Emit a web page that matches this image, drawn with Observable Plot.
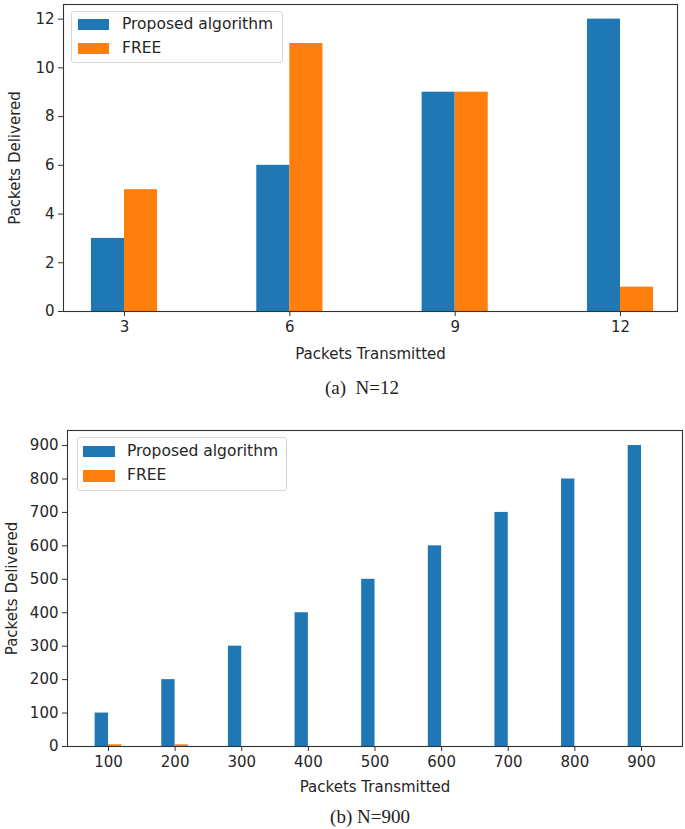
<!DOCTYPE html>
<html>
<head>
<meta charset="utf-8">
<script src="https://cdn.jsdelivr.net/npm/d3@7"></script>
<script src="https://cdn.jsdelivr.net/npm/@observablehq/plot@0.6"></script>
<style>
  html, body { margin: 0; padding: 0; background: #fff; }
  #root { position: relative; width: 685px; height: 829px; overflow: hidden; }
  .legend { position: absolute; border: 1px solid #d6d6d6; border-radius: 3px; background: rgba(255,255,255,0.85); box-sizing: border-box; }
  .sw { position: absolute; }
  .lt { position: absolute; font-family: "DejaVu Sans", sans-serif; font-size: 15.5px; color: #262626; line-height: 1; white-space: nowrap; }
  .cap { position: absolute; font-family: "Liberation Serif", "DejaVu Serif", serif; font-size: 19px; color: #222; white-space: nowrap; transform: translate(-50%, -50%); }
</style>
</head>
<body>
<div id="root"></div>
<script>
// ---- data ----
const seriesNames = ["Proposed algorithm", "FREE"];
const seriesColors = ["#1f77b4", "#ff7f0e"];

// (a) N=12
const transmittedA = [3, 6, 9, 12];
const proposedA = [3, 6, 9, 12];
const freeA = [5, 11, 9, 1];
const yTicksA = [0, 2, 4, 6, 8, 10, 12];

// (b) N=900
const transmittedB = [100, 200, 300, 400, 500, 600, 700, 800, 900];
const proposedB = [100, 200, 300, 400, 500, 600, 700, 800, 900];
const freeB = [5, 5, 0, 0, 0, 0, 0, 0, 0];
const yTicksB = [0, 100, 200, 300, 400, 500, 600, 700, 800, 900];

const captionA = "(a)\u00a0\u00a0N=12";
const captionB = "(b) N=900";
const xLabel = "Packets Transmitted";
const yLabel = "Packets Delivered";

function rows(xs, a, b) {
  const out = [];
  xs.forEach((x, i) => {
    out.push({x, v: a[i], s: 0});
    out.push({x, v: b[i], s: 1});
  });
  return out;
}

function makeChart(opts) {
  const data = rows(opts.xs, opts.a, opts.b);
  const w = opts.barW;
  return Plot.plot({
    width: 685,
    height: opts.height,
    marginTop: opts.mt,
    marginBottom: opts.mb,
    marginLeft: opts.ml,
    marginRight: opts.mr,
    style: {fontFamily: "DejaVu Sans, sans-serif", fontSize: "15px", color: "#262626", background: "transparent"},
    x: {domain: opts.xDomain},
    y: {domain: opts.yDomain},
    marks: [
      Plot.rectY(data, {
        x1: d => d.s === 0 ? d.x - w : d.x,
        x2: d => d.s === 0 ? d.x : d.x + w,
        y1: 0,
        y2: d => d.v,
        fill: d => seriesColors[d.s]
      }),
      Plot.frame({stroke: "#333", strokeWidth: 1.1}),
      Plot.axisX({ticks: opts.xs, tickFormat: d => String(d), tickSize: 5, tickPadding: 5,
        label: xLabel, labelAnchor: "center", labelArrow: "none", labelOffset: opts.xLabelOffset, stroke: "#333"}),
      Plot.axisY({ticks: opts.yTicks, tickFormat: d => String(d), tickSize: 5, tickPadding: 4,
        label: yLabel, labelAnchor: "center", labelArrow: "none", labelOffset: opts.yLabelOffset, stroke: "#333"})
    ]
  });
}

const root = document.getElementById("root");

function place(el, top) {
  el.style.position = "absolute";
  el.style.left = "0px";
  el.style.top = top + "px";
  root.appendChild(el);
}

const chartA = makeChart({
  xs: transmittedA, a: proposedA, b: freeA, barW: 0.6, yTicks: yTicksA,
  height: 365, mt: 4, mb: 54, ml: 63, mr: 8,
  xDomain: [1.893, 13.034], yDomain: [0, 12.6],
  xLabelOffset: 47, yLabelOffset: 54
});
place(chartA, 0);

const chartB = makeChart({
  xs: transmittedB, a: proposedB, b: freeB, barW: 20, yTicks: yTicksB,
  height: 380, mt: 10, mb: 54, ml: 67, mr: 3,
  xDomain: [38.5, 961.5], yDomain: [0, 945],
  xLabelOffset: 45, yLabelOffset: 61
});
place(chartB, 420);

function legend(box, sw1, sw2, textX) {
  const lg = document.createElement("div");
  lg.className = "legend";
  Object.assign(lg.style, {left: box[0] + "px", top: box[1] + "px", width: box[2] + "px", height: box[3] + "px"});
  root.appendChild(lg);
  [sw1, sw2].forEach((s, i) => {
    const d = document.createElement("div");
    d.className = "sw";
    Object.assign(d.style, {left: s[0] + "px", top: s[1] + "px", width: s[2] + "px", height: s[3] + "px", background: seriesColors[i]});
    root.appendChild(d);
    const t = document.createElement("div");
    t.className = "lt";
    t.textContent = seriesNames[i];
    Object.assign(t.style, {left: textX + "px", top: (s[1] + s[3] / 2 - 8) + "px"});
    root.appendChild(t);
  });
}
legend([71, 11, 212, 52], [78, 19, 31, 11], [78, 43, 31, 11], 122);
legend([77, 437, 210, 54], [83, 446, 32, 11], [83, 470, 32, 12], 127);

function caption(text, x, y) {
  const c = document.createElement("div");
  c.className = "cap";
  c.textContent = text;
  c.style.left = x + "px";
  c.style.top = y + "px";
  root.appendChild(c);
}
caption(captionA, 362, 388);
caption(captionB, 370, 817);
</script>
</body>
</html>
